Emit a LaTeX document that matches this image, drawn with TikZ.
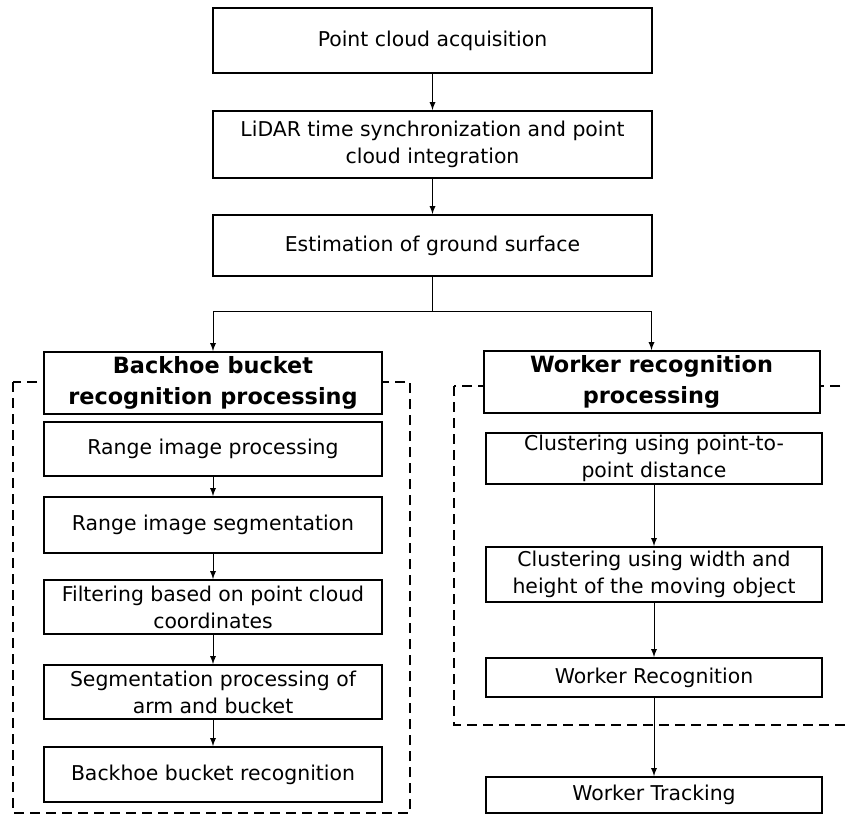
\documentclass[tikz,border=0pt]{standalone}
\usepackage{fontspec}
\setmainfont{DejaVu Sans}
\tikzset{
	stepbox/.style={draw,line width=1pt,align=center,inner sep=1pt,font=\fontsize{10.2}{13.5}\selectfont},
	topbox/.style={stepbox,minimum width=219.5pt},
	leftbox/.style={stepbox,minimum width=169pt},
	rightbox/.style={stepbox,minimum width=168pt},
	headbox/.style={fill=white,font=\bfseries\fontsize{11.2}{15.5}\selectfont},
	group/.style={line width=1.4pt,dash pattern=on 5pt off 3pt},
}

\begin{document}
\begin{tikzpicture}[x=0.5pt,y=-0.5pt,>=latex]
		\useasboundingbox (0,0) rectangle (845,815);
		\clip (0,0) rectangle (845,815);

		\draw[group] (13,382) rectangle (410,813);
		\draw[group] (454,386) rectangle (900,725);

		\node[topbox,minimum height=32.5pt] (acq) at (432.5,40.5) {Point cloud acquisition};
		\node[topbox,minimum height=33.5pt] (sync) at (432.5,144.5) {LiDAR time synchronization and point\\cloud integration};
		\node[topbox,minimum height=30.5pt] (ground) at (432.5,245.5) {Estimation of ground surface};

		\node[leftbox,headbox,minimum height=31pt] (bhead) at (213,383) {Backhoe bucket\\recognition processing};
		\node[leftbox,minimum height=27pt] (range) at (213,449) {Range image processing};
		\node[leftbox,minimum height=28pt] (rseg) at (213,525) {Range image segmentation};
		\node[leftbox,minimum height=27pt] (filt) at (213,607) {Filtering based on point cloud\\coordinates};
		\node[leftbox,minimum height=27pt] (arm) at (213,692) {Segmentation processing of\\arm and bucket};
		\node[leftbox,minimum height=27.5pt] (bucket) at (213,774.5) {Backhoe bucket recognition};

		\node[rightbox,headbox,minimum height=31pt] (whead) at (651.5,382) {Worker recognition\\processing};
		\node[rightbox,minimum height=23.5pt] (dist) at (654,458.5) {Clustering using point-to-\\point distance};
		\node[rightbox,minimum height=27.5pt] (size) at (654,574.5) {Clustering using width and\\height of the moving object};
		\node[rightbox,minimum height=19.5pt] (wrec) at (654,677.5) {Worker Recognition};
		\node[rightbox,minimum height=18pt] (track) at (654,795) {Worker Tracking};

		\coordinate (split) at (432.5,311);

		\draw[->] (acq) -- (sync);
		\draw[->] (sync) -- (ground);
		\draw (ground) -- (split);
		\draw[->] (split) -| (bhead);
		\draw[->] (split) -| (whead);

		\draw[->] (range) -- (rseg);
		\draw[->] (rseg) -- (filt);
		\draw[->] (filt) -- (arm);
		\draw[->] (arm) -- (bucket);

		\draw[->] (dist) -- (size);
		\draw[->] (size) -- (wrec);
		\draw[->] (wrec) -- (track);
	\end{tikzpicture}
\end{document}
